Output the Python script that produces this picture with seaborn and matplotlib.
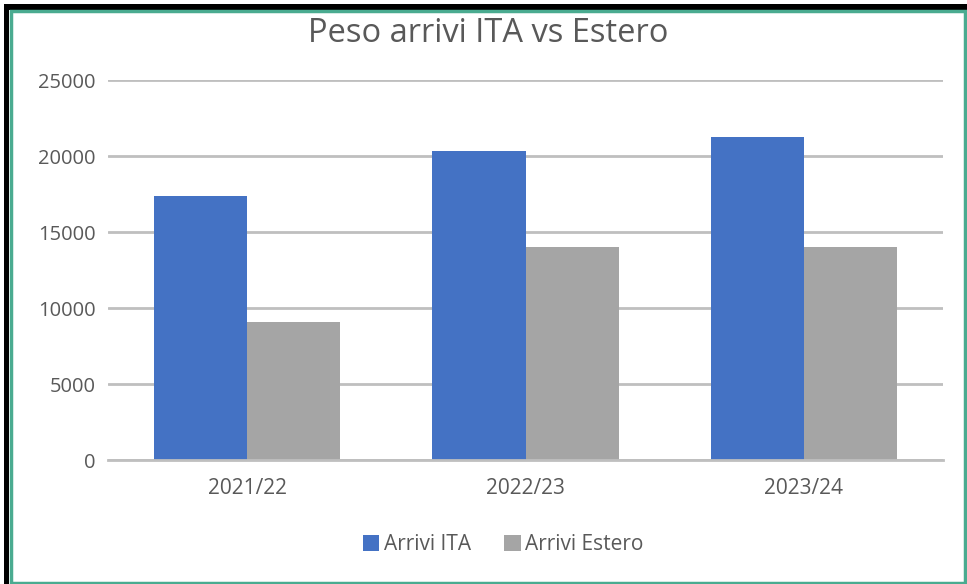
import numpy as np
import pandas as pd
import matplotlib
matplotlib.use("Agg")
import matplotlib.pyplot as plt
import seaborn as sns
from matplotlib.patches import Rectangle

# Dati
stagioni = ["2021/22", "2022/23", "2023/24"]
arrivi_ita = [17400, 20350, 21250]
arrivi_estero = [9100, 14000, 14000]
serie = ["Arrivi ITA", "Arrivi Estero"]

df = pd.DataFrame({
    "Stagione": stagioni * 2,
    "Serie": [serie[0]] * 3 + [serie[1]] * 3,
    "Valore": arrivi_ita + arrivi_estero,
})

sns.set_theme(style="white")
plt.rcParams["font.family"] = ["Open Sans", "DejaVu Sans"]

grigio_testo = "#595959"
W, H = 967, 584
fig = plt.figure(figsize=(W / 100, H / 100), dpi=100)
ax = fig.add_axes([108 / W, 1 - 460 / H, 835 / W, 380 / H])

sns.barplot(data=df, x="Stagione", y="Valore", hue="Serie",
            palette=["#4472c4", "#a5a5a5"], width=0.67, saturation=1,
            edgecolor="none", ax=ax, legend=True)

ax.set_ylim(0, 25000)
ax.set_xlim(-0.5, 2.5)
ax.set_yticks(np.arange(0, 25001, 5000))
ax.yaxis.grid(True, color="#bfbfbf", linewidth=2)
ax.set_axisbelow(True)
for s in ["top", "right", "left"]:
    ax.spines[s].set_visible(False)
ax.spines["bottom"].set_color("#bfbfbf")
ax.spines["bottom"].set_linewidth(2)
ax.set_xlabel("")
ax.set_ylabel("")
ax.tick_params(axis="both", length=0, colors=grigio_testo)
ax.tick_params(axis="y", pad=9, labelsize=14.5)
ax.tick_params(axis="x", pad=13, labelsize=15)

fig.text(0.505, 1 - 33 / H, "Peso arrivi ITA vs Estero", ha="center", va="center",
         fontsize=23.5, color=grigio_testo)

handles, labels = ax.get_legend_handles_labels()
ax.legend_.remove()
fig.legend(handles, labels, loc="center", bbox_to_anchor=(503 / W, 1 - 545 / H),
           ncol=2, frameon=False, fontsize=15, labelcolor=grigio_testo,
           handlelength=0.8, handleheight=0.8, handletextpad=0.2,
           columnspacing=1.6)

# cornice: ombra nera a sinistra e in alto, bordo verde
fig.add_artist(Rectangle((4 / W, 0), 5 / W, 1 - 4 / H, transform=fig.transFigure,
                         facecolor="black", edgecolor="none", zorder=10))
fig.add_artist(Rectangle((4 / W, 1 - 10 / H), 1 - 4 / W, 6 / H, transform=fig.transFigure,
                         facecolor="black", edgecolor="none", zorder=10))
fig.add_artist(Rectangle((10.5 / W, 1.5 / H), 1 - 12.5 / W, 1 - 12 / H, transform=fig.transFigure,
                         fill=False, edgecolor="#4aab90", linewidth=2.5, zorder=11))

fig.savefig("out.png", dpi=100, facecolor="white")
